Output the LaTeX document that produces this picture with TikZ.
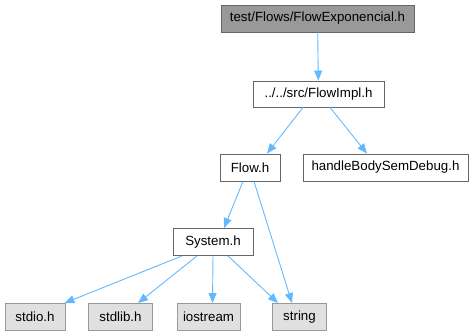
\documentclass[tikz,border=0pt]{standalone}
\usepackage{fontspec}
\setmainfont{Liberation Sans}
\usepackage{xcolor}
\usetikzlibrary{positioning,arrows.meta}

\definecolor{edgeblue}{HTML}{63B8FF}
\definecolor{rootfill}{HTML}{999999}
\definecolor{extfill}{HTML}{E0E0E0}

\begin{document}
\begin{tikzpicture}[
    x=1pt,y=-1pt,
    >={Triangle[length=10pt,width=8pt]},
    boxstyle/.style={draw=black!60,line width=0.9pt,minimum height=27pt,inner sep=0pt,align=center,font=\fontsize{13.3}{16}\selectfont},
    rootbox/.style={boxstyle,fill=rootfill,draw=black!60},
    hdrbox/.style={boxstyle,fill=white},
    sysbox/.style={boxstyle,fill=extfill,draw=black!40},
    arr/.style={->,draw=edgeblue,line width=0.9pt}
]
\useasboundingbox (0,0) rectangle (474,336);

% header chain
\node[rootbox,minimum width=193pt] (root) at (317.5,18.5) {test/Flows/FlowExponencial.h};
\node[hdrbox,minimum width=131pt,minimum height=26pt] (impl) at (318.5,94) {../../src/FlowImpl.h};
\node[hdrbox,minimum width=60pt] (flow) at (250,167.5) {Flow.h};
\node[hdrbox,minimum width=165pt] (dbg) at (385.5,167.5) {handleBodySemDebug.h};
\node[hdrbox,minimum width=80pt] (sys) at (213,242) {System.h};

% system headers
\node[sysbox,minimum width=60pt] (stdio) at (35,317) {stdio.h};
\node[sysbox,minimum width=64pt] (stdlib) at (120.5,317) {stdlib.h};
\node[sysbox,minimum width=63pt] (iostream) at (208.5,317) {iostream};
\node[sysbox,minimum width=54pt] (string) at (299.5,317) {string};

\draw[arr] (root) -- (impl);
\draw[arr] ([xshift=-15.5pt]impl.south) -- ([xshift=17pt]flow.north);
\draw[arr] ([xshift=11.5pt]impl.south) -- ([xshift=-18.5pt]dbg.north);
\draw[arr] ([xshift=-7pt]flow.south) -- ([xshift=11pt]sys.north);
\draw[arr] ([xshift=4pt]flow.south) -- ([xshift=-7.5pt]string.north);
\draw[arr] ([xshift=-31pt]sys.south) -- ([xshift=-1pt]stdio.north east);
\draw[arr] ([xshift=-16pt]sys.south) -- ([xshift=17.5pt]stdlib.north);
\draw[arr] ([xshift=0pt]sys.south) -- ([xshift=4pt]iostream.north);
\draw[arr] ([xshift=15pt]sys.south) -- ([xshift=-21.5pt]string.north);
\end{tikzpicture}
\end{document}
